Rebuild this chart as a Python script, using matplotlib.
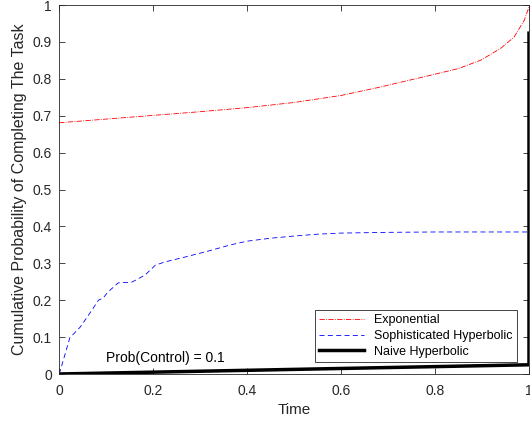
import matplotlib
matplotlib.use('Agg')
import matplotlib.pyplot as plt

plt.rcParams['font.family'] = ['Liberation Sans', 'DejaVu Sans']

# values
t_exp = [0.0, 0.1, 0.2, 0.3, 0.4, 0.5, 0.6, 0.684, 0.791, 0.85, 0.898, 0.94, 0.968, 0.99, 1.0]
p_exp = [0.681, 0.691, 0.701, 0.711, 0.722, 0.736, 0.755, 0.778, 0.81, 0.828, 0.851, 0.883, 0.913, 0.959, 0.995]

t_soph = [0.0, 0.002, 0.023, 0.045, 0.063, 0.084, 0.094, 0.104, 0.126, 0.155, 0.183, 0.205, 0.226,
          0.268, 0.311, 0.365, 0.4, 0.45, 0.5, 0.55, 0.6, 0.7, 0.8, 0.9, 1.0]
p_soph = [0.0, 0.006, 0.098, 0.127, 0.16, 0.2, 0.206, 0.222, 0.247, 0.249, 0.268, 0.295, 0.304,
          0.317, 0.331, 0.35, 0.36, 0.368, 0.374, 0.379, 0.382, 0.384, 0.385, 0.385, 0.385]

t_naive = [0.0, 1.0, 1.0]
p_naive = [0.0, 0.025, 0.924]

series_labels = ['Exponential', 'Sophisticated Hyperbolic', 'Naive Hyperbolic']
annotation = 'Prob(Control) = 0.1'

fig = plt.figure(figsize=(5.3, 4.25), dpi=100)
ax = fig.add_axes([0.1113, 0.12, 0.8868, 0.868])

ax.plot(t_exp, p_exp, color='red', linestyle='-.', linewidth=0.6, label=series_labels[0])
ax.plot(t_soph, p_soph, color='blue', linestyle=(0, (6, 4)), linewidth=0.6, label=series_labels[1])
ax.plot(t_naive, p_naive, color='black', linewidth=2.5, label=series_labels[2])

ax.text(0.101, 0.044, annotation, fontsize=10, va='center', ha='left')

ax.set_xlim(0, 1)
ax.set_ylim(0, 1)
ax.set_xticks([0, 0.2, 0.4, 0.6, 0.8, 1])
ax.set_xticklabels(['0', '0.2', '0.4', '0.6', '0.8', '1'])
ax.set_yticks([i / 10 for i in range(11)])
ax.set_yticklabels(['0'] + [f'{i / 10:.1f}' for i in range(1, 10)] + ['1'])
ax.tick_params(direction='in', top=True, right=True, length=4, width=0.6,
               colors='#262626', labelsize=10, labelcolor='#262626')
ax.tick_params(axis='x', pad=7)
ax.tick_params(axis='y', pad=5)
for s in ax.spines.values():
    s.set_color('#262626')
    s.set_linewidth(0.6)

ax.set_xlabel('Time', fontsize=11, color='#262626', labelpad=4)
ax.set_ylabel('Cumulative Probability of Completing The Task', fontsize=11.5, color='#262626')

leg = ax.legend(loc='lower right', fontsize=9, fancybox=False, framealpha=1,
                edgecolor='#262626', borderpad=0.35, handlelength=3.6, labelspacing=0.3,
                borderaxespad=0, bbox_to_anchor=(0.974, 0.0325))
leg.get_frame().set_linewidth(0.6)

fig.savefig('out.png', dpi=100)
